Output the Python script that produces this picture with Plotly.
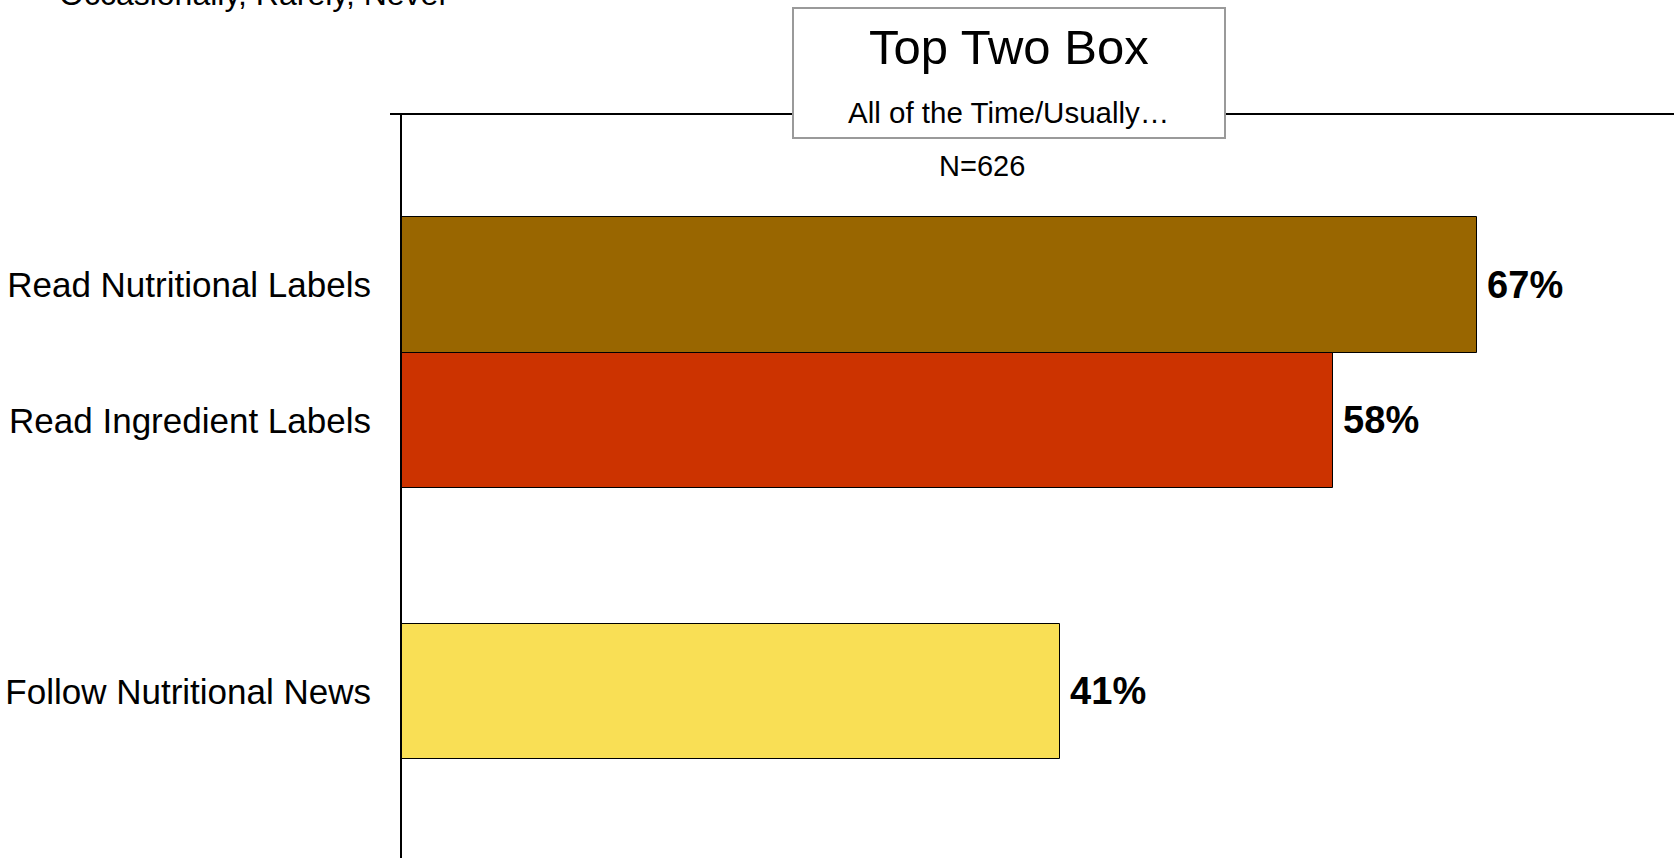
import plotly.graph_objects as go

# ---- data ----
categories = ["Read Nutritional Labels", "Read Ingredient Labels", " ", "Follow Nutritional News"]
values = [67, 58, None, 41]
value_labels = ["67%", "58%", "", "41%"]
bar_colors = ["#996600", "#CC3300", "#FFFFFF", "#F9DF55"]

title_text = "Top Two Box"
subtitle_text = "All of the Time/Usually…"
n_text = "N=626"
corner_text = "Occasionally, Rarely, Never"

W, H = 1674, 858
L, T = 402, 114
plot_w = W - L
plot_h = H - T
px_per_pct = 16.05
slot_px = 135.5
first_center = 284.75

def px_x(p):
    return (p - L) / plot_w

def px_y(p):
    return (H - p) / plot_h

FONT = "Arial, 'Liberation Sans', sans-serif"

fig = go.Figure(
    go.Bar(
        y=categories,
        x=values,
        orientation="h",
        marker=dict(color=bar_colors, line=dict(color="black", width=1)),
        text=["\u2009" + t if t else "" for t in value_labels],
        textposition="outside",
        textfont=dict(family=FONT, size=38, color="black", weight="bold"),
        cliponaxis=False,
        hoverinfo="skip",
    )
)

y_top = (T - first_center) / slot_px
y_bot = (H - first_center) / slot_px

fig.update_layout(
    width=W,
    height=H,
    margin=dict(l=L, r=0, t=T, b=0, pad=0),
    paper_bgcolor="white",
    plot_bgcolor="white",
    bargap=0,
    showlegend=False,
    font=dict(family=FONT, color="black"),
    xaxis=dict(
        range=[0, plot_w / px_per_pct],
        showgrid=False,
        zeroline=False,
        showline=False,
        showticklabels=False,
        ticks="",
    ),
    yaxis=dict(
        type="category",
        categoryorder="array",
        categoryarray=categories,
        range=[y_bot, y_top],
        showgrid=False,
        zeroline=False,
        showline=True,
        linecolor="black",
        linewidth=2,
        ticks="",
        ticklabelstandoff=22,
        tickfont=dict(family=FONT, size=35, color="black"),
    ),
)

# top horizontal line (with a short stub left of the axis)
fig.add_shape(type="line", xref="paper", yref="paper",
              x0=px_x(390), x1=1, y0=1, y1=1,
              line=dict(color="black", width=2), layer="above")
# title box
fig.add_shape(type="rect", xref="paper", yref="paper",
              x0=px_x(793), x1=px_x(1225), y0=px_y(138), y1=px_y(8),
              line=dict(color="#9A9A9A", width=2), fillcolor="white", layer="above")

def add_text(txt, cx, baseline, size, xanchor="center", bold=False):
    bottom = baseline + 0.212 * size + 1
    fig.add_annotation(
        text=txt, xref="paper", yref="paper",
        x=px_x(cx), y=px_y(bottom), xanchor=xanchor, yanchor="bottom",
        showarrow=False,
        font=dict(family=FONT, size=size, color="black", weight="bold" if bold else "normal"),
    )

add_text(title_text, 1009, 65, 49)
add_text(subtitle_text, 1008, 124, 29.5)
add_text(n_text, 982, 177, 29)
add_text(corner_text, 57, 6, 32, xanchor="left")

fig.write_html("out.html")
